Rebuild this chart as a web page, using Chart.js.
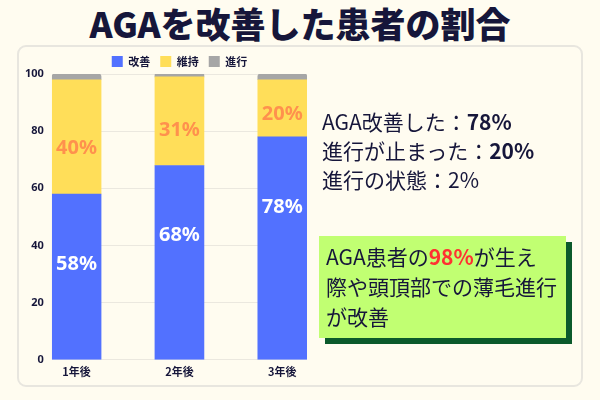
<!DOCTYPE html>
<html lang="ja">
<head>
<meta charset="utf-8">
<script src="https://cdn.jsdelivr.net/npm/chart.js@4.4.1/dist/chart.umd.min.js"></script>
<style>
  html, body { margin: 0; padding: 0; }
  body {
    width: 600px; height: 400px; position: relative; overflow: hidden;
    background: #fffcf0;
    font-family: "Noto Sans CJK JP", "Noto Sans", sans-serif;
    color: #16163a;
  }
  #title {
    position: absolute; left: 0; top: 2px; width: 600px; text-align: center;
    font-size: 35px; font-weight: 900; line-height: 42px;
  }
  #card {
    position: absolute; left: 17px; top: 45px; width: 562px; height: 338px;
    border: 2px solid #e8e6df; border-radius: 9px;
  }
  #chartBox { position: absolute; left: 17px; top: 46px; width: 325px; height: 337px; }
  #summary {
    position: absolute; left: 322px; top: 107px;
    font-size: 21px; line-height: 29px; white-space: nowrap;
  }
  #summary b { font-weight: 700; }
  #note {
    position: absolute; left: 319px; top: 236px; width: 240px; height: 97px;
    background: #c1ff72; box-shadow: 6px 6px 0 #0b5a2b;
    padding: 5px 0 0 7px; font-size: 21px; line-height: 30px;
  }
  #note .hl { color: #ff3131; font-weight: 700; }
</style>
</head>
<body>
<div id="title">AGAを改善した患者の割合</div>
<div id="card"></div>
<div id="chartBox"><canvas id="chart"></canvas></div>
<div id="summary">
  AGA改善した：<b>78%</b><br>
  進行が止まった：<b>20%</b><br>
  進行の状態：2%
</div>
<div id="note">AGA患者の<span class="hl">98%</span>が生え<br>際や頭頂部での薄毛進行<br>が改善</div>

<script>
// data
const years = ['1年後', '2年後', '3年後'];
const improved = [58, 68, 78];     // 改善
const maintained = [40, 31, 20];   // 維持
const progressed = [2, 1, 2];      // 進行
const yTicks = [0, 20, 40, 60, 80, 100];

// bars sit at x = 1, 2, 3 on a linear axis
const toPoints = arr => arr.map((v, i) => ({ x: i + 1, y: v }));

// percent labels inside the blue and yellow segments
const segLabels = {
  id: 'segLabels',
  afterDatasetsDraw(chart) {
    const ctx = chart.ctx;
    ctx.save();
    ctx.textAlign = 'center';
    ctx.textBaseline = 'middle';
    ctx.font = '700 20px "Noto Sans", sans-serif';
    chart.getDatasetMeta(0).data.forEach((bar, i) => {
      ctx.fillStyle = '#ffffff';
      ctx.fillText(improved[i] + '%', bar.x, bar.y + 70);
    });
    chart.getDatasetMeta(1).data.forEach((bar, i) => {
      ctx.fillStyle = '#ff914d';
      ctx.fillText(maintained[i] + '%', bar.x, bar.y + (bar.base - bar.y) * 0.6);
    });
    ctx.restore();
  }
};

// legend is centred over the whole canvas, not just the padded part
const legendWide = {
  id: 'legendWide',
  afterLayout(chart) {
    chart.legend.left = 0;
    chart.legend.right = chart.width;
  }
};

new Chart(document.getElementById('chart'), {
  type: 'bar',
  data: {
    datasets: [
      { label: '改善', data: toPoints(improved), backgroundColor: '#5271ff' },
      { label: '維持', data: toPoints(maintained), backgroundColor: '#ffde59' },
      { label: '進行', data: toPoints(progressed), backgroundColor: '#a6a6a6', borderRadius: 5 }
    ]
  },
  options: {
    responsive: true,
    maintainAspectRatio: false,
    animation: false,
    datasets: { bar: { barThickness: 49 } },
    layout: { padding: { left: 0, right: 35, top: 0, bottom: 0 } },
    plugins: {
      legend: {
        maxHeight: 28,
        labels: {
          boxWidth: 11, boxHeight: 11, padding: 10,
          color: '#16163a',
          font: { family: '"Noto Sans CJK JP"', size: 11, weight: '700' }
        }
      },
      tooltip: { enabled: false }
    },
    scales: {
      x: {
        type: 'linear', stacked: true, min: 0.76, max: 3.24, offset: false,
        afterBuildTicks: s => { s.ticks = years.map((y, i) => ({ value: i + 1 })); },
        ticks: {
          padding: 5, color: '#16163a', maxRotation: 0,
          font: { family: '"Noto Sans CJK JP"', size: 11, weight: '700' },
          callback: v => years[v - 1] || ''
        },
        grid: { display: false, drawTicks: false, offset: false },
        border: { display: false }
      },
      y: {
        stacked: true, min: 0, max: 100,
        afterBuildTicks: s => { s.ticks = yTicks.map(v => ({ value: v })); },
        ticks: {
          padding: 8, color: '#16163a',
          font: { family: '"Noto Sans", sans-serif', size: 11, weight: '700' }
        },
        grid: { color: '#ebe8df', drawTicks: false },
        border: { display: false }
      }
    }
  },
  plugins: [segLabels, legendWide]
});
</script>
</body>
</html>
